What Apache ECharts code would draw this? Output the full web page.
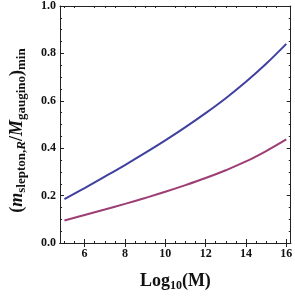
<!DOCTYPE html>
<html>
<head>
<meta charset="utf-8">
<script src="https://cdn.jsdelivr.net/npm/echarts@6/dist/echarts.min.js"></script>
<style>html,body{margin:0;padding:0;background:#fff}#c{width:295px;height:297px}</style>
</head>
<body>
<div id="c"></div>
<script>
const logM = [5, 6, 7, 8, 9, 10, 11, 12, 13, 14, 15, 16];
const upperCurve = [0.185, 0.232, 0.280, 0.329, 0.380, 0.433, 0.489, 0.548, 0.611, 0.680, 0.756, 0.840];
const lowerCurve = [0.095, 0.118, 0.141, 0.165, 0.190, 0.216, 0.244, 0.274, 0.307, 0.344, 0.388, 0.437];
const xMajorTicks = [6, 8, 10, 12, 14, 16];
const xMinorTicks = [5, 5.5, 6.5, 7, 7.5, 8.5, 9, 9.5, 10.5, 11, 11.5, 12.5, 13, 13.5, 14.5, 15, 15.5];
const yTicks = [0, 0.2, 0.4, 0.6, 0.8, 1.0];

const FONT = '"Liberation Serif", "Times New Roman", serif';
const AX = '#222';
const xMin = 4.78, xMax = 16.22;

function xAxisDef(pos, custom, len, labels) {
  return {
    type: 'value', position: pos, min: xMin, max: xMax,
    axisLine: { show: true, lineStyle: { color: AX, width: 1 } },
    axisTick: { show: true, inside: true, length: len, customValues: custom, lineStyle: { color: AX, width: 1 } },
    axisLabel: labels ? { show: true, customValues: xMajorTicks, margin: 5, color: '#111', fontFamily: FONT, fontWeight: 'bold', fontSize: 12, formatter: v => String(v) } : { show: false },
    splitLine: { show: false }
  };
}
function yAxisDef(pos, labels) {
  return {
    type: 'value', position: pos, min: yTicks[0], max: yTicks[yTicks.length - 1], interval: 0.2,
    axisLine: { show: true, lineStyle: { color: AX, width: 1 } },
    axisTick: { show: true, inside: true, length: 4, lineStyle: { color: AX, width: 1 } },
    minorTick: { show: true, splitNumber: 4, length: 2, lineStyle: { color: AX, width: 1 } },
    axisLabel: labels ? { show: true, margin: 4, color: '#111', fontFamily: FONT, fontWeight: 'bold', fontSize: 12, formatter: v => v.toFixed(1) } : { show: false },
    splitLine: { show: false },
    minorSplitLine: { show: false }
  };
}

const xBottom = xAxisDef('bottom', xMajorTicks, 4, true);
xBottom.name = '{b|Log}{s|10}{b|(M)}';
xBottom.nameLocation = 'middle';
xBottom.nameGap = 27;
xBottom.nameTextStyle = {
  rich: {
    b: { fontFamily: FONT, fontWeight: 'bold', fontSize: 18, color: '#111', lineHeight: 22, verticalAlign: 'middle' },
    s: { fontFamily: FONT, fontWeight: 'bold', fontSize: 12, color: '#111', lineHeight: 12, verticalAlign: 'bottom' }
  }
};
const yLeft = yAxisDef('left', true);
yLeft.name = '{b|(}{bi|m}{s|slepton,}{si|R}{b|/}{bi|M}{s|gaugino}{b|)}{s|min}';
yLeft.nameLocation = 'middle';
yLeft.nameGap = 32;
yLeft.nameRotate = 90;
yLeft.nameTextStyle = {
  padding: [0, 12, 0, 0],
  rich: {
    b: { fontFamily: FONT, fontWeight: 'bold', fontSize: 18, color: '#111', lineHeight: 22, verticalAlign: 'middle' },
    bi: { fontFamily: FONT, fontWeight: 'bold', fontStyle: 'italic', fontSize: 18, color: '#111', lineHeight: 22, verticalAlign: 'middle' },
    s: { fontFamily: FONT, fontWeight: 'bold', fontSize: 13, color: '#111', lineHeight: 13, verticalAlign: 'bottom' },
    si: { fontFamily: FONT, fontWeight: 'bold', fontStyle: 'italic', fontSize: 13, color: '#111', lineHeight: 13, verticalAlign: 'bottom' }
  }
};

const chart = echarts.init(document.getElementById('c'), null, { renderer: 'canvas' });
chart.setOption({
  animation: false,
  backgroundColor: '#fff',
  grid: { left: 44, right: 2.5, top: 6, bottom: 41.5, containLabel: false },
  xAxis: [
    xBottom,
    xAxisDef('top', xMajorTicks, 4, false),
    xAxisDef('bottom', xMinorTicks, 2, false),
    xAxisDef('top', xMinorTicks, 2, false)
  ],
  yAxis: [yLeft, yAxisDef('right', false)],
  series: [
    { type: 'line', xAxisIndex: 0, yAxisIndex: 0, data: logM.map((x, i) => [x, upperCurve[i]]), smooth: 0.4, showSymbol: false, lineStyle: { color: '#4040a0', width: 2 } },
    { type: 'line', xAxisIndex: 0, yAxisIndex: 0, data: logM.map((x, i) => [x, lowerCurve[i]]), smooth: 0.4, showSymbol: false, lineStyle: { color: '#9c3e74', width: 2 } }
  ]
});
</script>
</body>
</html>
